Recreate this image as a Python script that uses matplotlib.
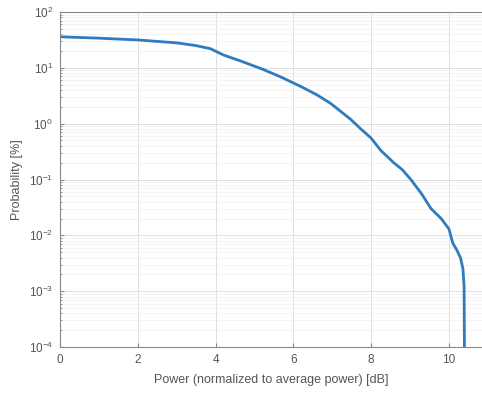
import matplotlib.pyplot as plt

plt.rcParams['font.family'] = ['Liberation Sans', 'DejaVu Sans']

# CCDF of power
power_db = [0, 1, 2, 3, 3.5, 3.87, 4.2, 4.64, 5.2, 5.67, 6.2, 6.6, 6.96, 7.47, 7.73,
            8.0, 8.25, 8.58, 8.8, 9.02, 9.3, 9.54, 9.8, 10.0, 10.1, 10.2, 10.3, 10.36, 10.39, 10.4]
prob_pct = [36, 34, 31.6, 28, 25, 22, 17, 13.3, 9.5, 6.9, 4.6, 3.3, 2.3, 1.2, 0.81,
            0.55, 0.33, 0.2, 0.15, 0.1, 0.055, 0.03, 0.02, 0.013, 0.0072, 0.0055, 0.0039, 0.0025, 0.0012, 0.00005]

fig = plt.figure(figsize=(4.82, 3.96), dpi=100)
ax = fig.add_axes([60/482, 1 - 347/396, 1 - 60/482, (347 - 12)/396])

ax.semilogy(power_db, prob_pct, color='#2f7bbf', linewidth=2)
ax.set_xlim(0, 10.85)
ax.set_ylim(1e-4, 1e2)
ax.set_xticks([0, 2, 4, 6, 8, 10])
ax.grid(True, which='major', color='#e0e0e0', linewidth=0.7)
ax.grid(True, which='minor', axis='y', color='#f0f0f0', linewidth=0.5)
ax.set_axisbelow(True)
ax.spines['right'].set_visible(False)
for s in ax.spines.values():
    s.set_color('#8a8a8a')
    s.set_linewidth(0.8)
ax.tick_params(which='both', direction='in', labelsize=8.5, colors='#8a8a8a',
               labelcolor='#555555', length=3, pad=5)
ax.tick_params(which='minor', length=1.5)
ax.set_xlabel('Power (normalized to average power) [dB]', fontsize=9, color='#555555', labelpad=6)
ax.set_ylabel('Probability [%]', fontsize=9, color='#555555', labelpad=4)

plt.savefig('out.png', dpi=100)
